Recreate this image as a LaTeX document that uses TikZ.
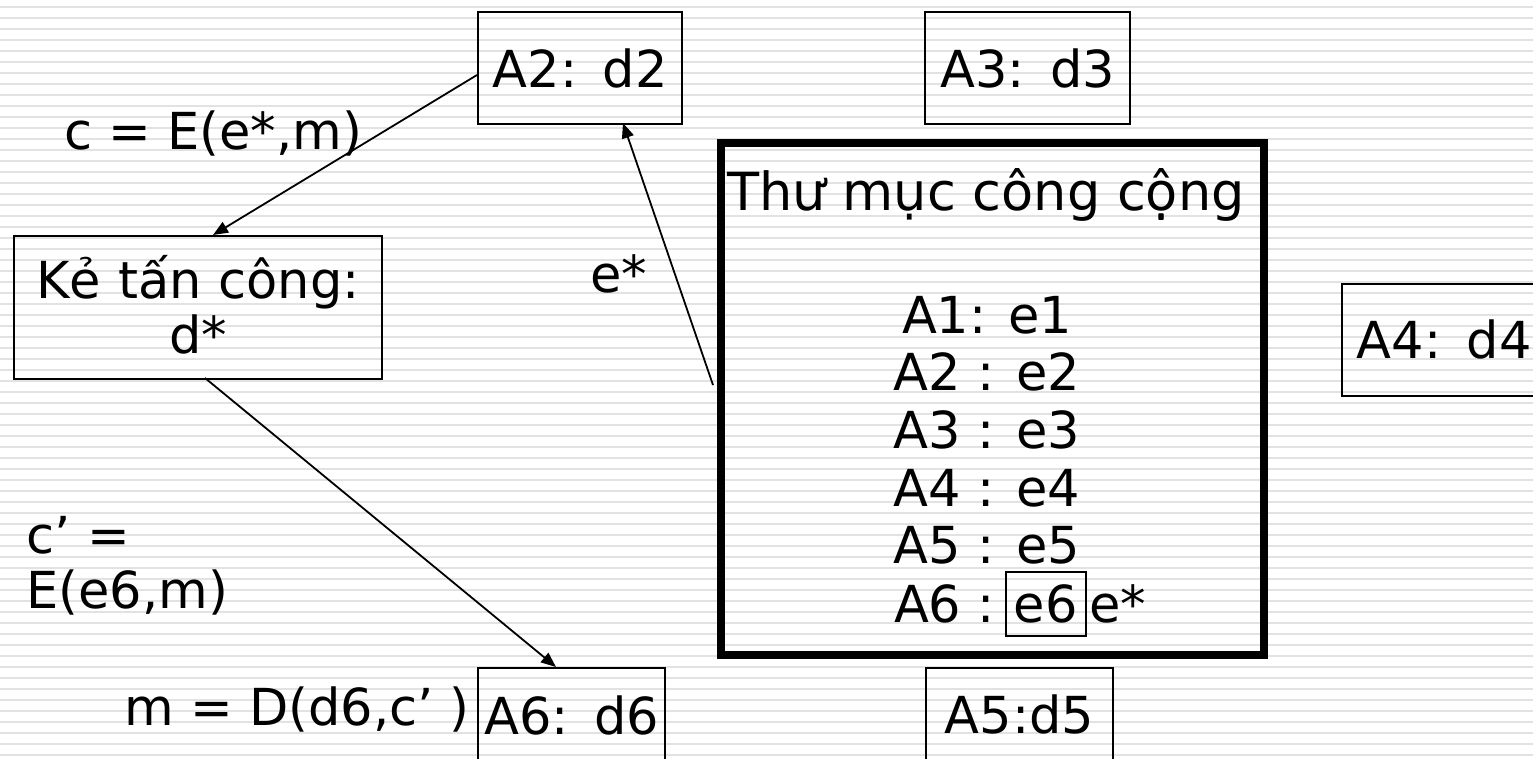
\documentclass[tikz,border=0pt]{standalone}
\usepackage{fontspec}
\setmainfont{DejaVu Sans}
\usetikzlibrary{arrows.meta,calc}
\definecolor{ruled}{RGB}{226,226,226}
\begin{document}
\begin{tikzpicture}[x=1pt,y=-1pt,
  every node/.style={font=\fontsize{51}{55}\selectfont, inner sep=0pt},
  box/.style={draw=black, line width=2.2pt, align=center, anchor=north west},
  lbl/.style={anchor=base west},
  conn/.style={line width=1.8pt, -{Triangle[length=15pt,width=12pt]}},
]
\useasboundingbox (0,0) rectangle (1533,758);
\fill[white] (0,0) rectangle (1533,758);
\foreach \k in {0,...,68}
  \draw[ruled, line width=2.2pt] (0,{6.7+11*\k}) -- (1533,{6.7+11*\k});

% boxes
\node[box, text width=204, text height=75, text depth=37] (a2) at (477,11) {A2: d2};
\node[box, text width=205, text height=75, text depth=37] (a3) at (924,11) {A3: d3};
\node[box, text width=204, text height=74, text depth=38] (a4) at (1341,283) {A4: d4};
\node[box, text width=187, text height=65, text depth=60] (a5) at (925,667) {A5:d5};
\node[box, text width=187, text height=66, text depth=60] (a6) at (477,667) {A6: d6};
\node[box, text width=368, text height=62, text depth=81] (ke) at (13,235) {Kẻ tấn công:\\d*};

% public directory
\node[draw=black, line width=8pt, minimum width=543, minimum height=512, anchor=north west] (dir) at (717,139) {};
\node[anchor=base, font=\fontsize{52.5}{56}\selectfont] (title) at (986,210) {Thư mục công cộng};
\node[anchor=base] (l1) at (987,333) {A1: e1};
\node[anchor=base] (l2) at (987,390) {A2 : e2};
\node[anchor=base] (l3) at (987,448) {A3 : e3};
\node[anchor=base] (l4) at (987,506) {A4 : e4};
\node[anchor=base] (l5) at (987,563) {A5 : e5};
\node[anchor=base east] (l6a) at (995,622) {A6 :};
\node[draw=black, line width=1.6pt, anchor=north west, text width=80, align=center, text height=51, text depth=13] (e6) at (1005,571) {e6};
\node[anchor=base west] (l6b) at (1089,622) {e*};

% labels
\node[lbl] (lc) at (64,149) {c = E(e*,m)};
\node[lbl] (lestar) at (590,292) {e*};
\node[anchor=base west, text width=260, align=left] (lcp) at (26,553) {c’ =\\E(e6,m)};
\node[anchor=base east] (lm) at (470,725) {m = D(d6,c’ )};

% connectors
\coordinate (a2in) at (623,123);
\coordinate (dirout) at (713,385);
\coordinate (kein) at (213,235);
\coordinate (keout) at (205,378);
\coordinate (a6in) at (556,667);
\coordinate (a2out) at (477,75);
\draw[conn] (a2out) -- (kein);
\draw[conn] (dirout) -- (a2in);
\draw[conn] (keout) -- (a6in);
\end{tikzpicture}
\end{document}
